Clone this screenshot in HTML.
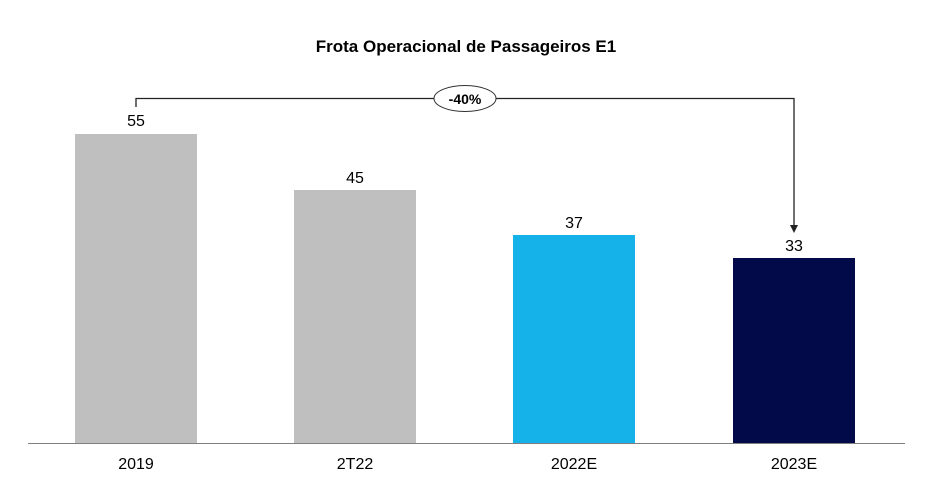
<!DOCTYPE html>
<html><head><meta charset="utf-8"><style>
body{margin:0;background:#fff;}
svg{display:block;font-family:"Liberation Sans",Arial,sans-serif;}
</style></head><body>
<svg width="925" height="496" viewBox="0 0 925 496">
<text x="466" y="52" text-anchor="middle" font-size="17" font-weight="bold" fill="#000">Frota Operacional de Passageiros E1</text>
<rect x="75" y="134" width="122" height="309" fill="#bfbfbf"/>
<rect x="294" y="190" width="122" height="253" fill="#bfbfbf"/>
<rect x="513" y="235" width="122" height="208" fill="#14b2e8"/>
<rect x="733" y="258" width="122" height="185" fill="#020a4a"/>
<line x1="28" y1="443.5" x2="905" y2="443.5" stroke="#7f7f7f" stroke-width="1"/>
<g font-size="16" fill="#000" text-anchor="middle">
<text x="136" y="126">55</text>
<text x="355" y="183">45</text>
<text x="574" y="228">37</text>
<text x="794" y="251">33</text>
<text x="136" y="469">2019</text>
<text x="355" y="469">2T22</text>
<text x="574" y="469">2022E</text>
<text x="794" y="469">2023E</text>
</g>
<polyline points="136,107 136,98.5 794,98.5 794,226" fill="none" stroke="#222" stroke-width="1.3"/>
<polygon points="790,225 798,225 794,233" fill="#222"/>
<ellipse cx="465" cy="98.5" rx="31" ry="13" fill="#fff" stroke="#333" stroke-width="1"/>
<text x="465" y="104" text-anchor="middle" font-size="14" font-weight="bold" fill="#000">-40%</text>
</svg>
</body></html>
